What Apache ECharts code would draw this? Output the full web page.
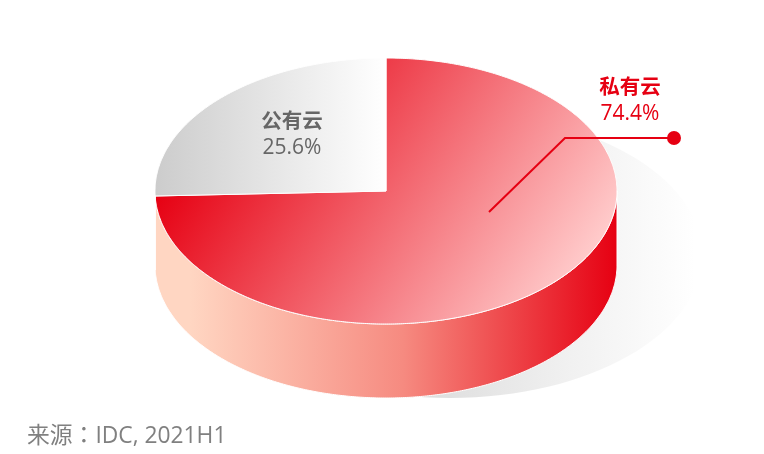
<!DOCTYPE html>
<html><head><meta charset="utf-8">
<style>html,body{margin:0;padding:0;background:#fff}#c{width:764px;height:454px}</style>
<script src="https://cdn.jsdelivr.net/npm/echarts@6/dist/echarts.min.js"></script>
</head><body><div id="c"></div>
<script>
const categories = ['私有云', '公有云'];
const shares = [74.4, 25.6];
const sourceNote = '来源：IDC, 2021H1';

const disc = { cx: 386, cy: 191, rx: 231, ry: 133, depth: 74 };
const FONT = '"Open Sans","Noto Sans CJK SC",sans-serif';
const RED = '#e60012';

const total = shares.reduce((a, b) => a + b, 0);
const starts = []; let acc = 0;
shares.forEach(v => { starts.push(acc); acc += v / total * 360; });

function pt(deg, dy) {
  const r = deg * Math.PI / 180;
  return [disc.cx + disc.rx * Math.sin(r), disc.cy - disc.ry * Math.cos(r) + (dy || 0)];
}
function arc(a, b, dy) {
  const n = Math.max(2, Math.ceil(Math.abs(b - a) * 2)), out = [];
  for (let i = 0; i <= n; i++) out.push(pt(a + (b - a) * i / n, dy));
  return out;
}
function grad(x, y, x2, y2, stops) {
  return { type: 'linear', global: true, x, y, x2, y2,
    colorStops: stops.map(s => ({ offset: s[0], color: s[1] })) };
}
const topFill = [
  grad(155, 197, 480, 416, [[0, RED], [1, '#ffcaca']]),
  grad(155, 0, 386, 0, [[0, '#cccccc'], [1, '#ffffff']])
];
const sideFill = grad(190, 0, 617, 0, [[0, '#ffd6c2'], [0.5, '#f68a80'], [1, RED]]);
const labelAt = [
  { x: 630, y: 88, color: RED },
  { x: 292, y: 122, color: '#666666' }
];
const leader = [[489, 212], [565, 138], [674, 138]];

function renderSlice(params, api) {
  const i = params.dataIndex;
  const a0 = starts[i], a1 = a0 + api.value(0) / total * 360;
  const children = [];
  const fa = Math.max(a0, 90), fb = Math.min(a1, 270);
  if (fb > fa) {
    children.push({ type: 'polygon', shape: { points: arc(fa, fb, 0).concat(arc(fb, fa, disc.depth)) },
      style: { fill: sideFill, stroke: '#ffffff', lineWidth: 1 } });
  }
  children.push({ type: 'polygon',
    shape: { points: [[disc.cx, disc.cy]].concat(arc(a0, a1, 0)) },
    style: { fill: topFill[i], stroke: '#ffffff', lineWidth: 1 } });
  if (i === 0) {
    children.push({ type: 'polyline', shape: { points: leader }, style: { stroke: RED, lineWidth: 2, fill: null } });
    children.push({ type: 'circle', shape: { cx: leader[2][0], cy: leader[2][1], r: 7 }, style: { fill: RED } });
  }
  const l = labelAt[i];
  children.push({ type: 'text', z2: 10, style: { x: l.x, y: l.y, text: categories[i], fill: l.color,
    font: 'bold 20.5px ' + FONT, align: 'center', verticalAlign: 'middle' } });
  children.push({ type: 'text', z2: 10, style: { x: l.x, y: l.y + 26, text: api.value(0).toFixed(1) + '%', fill: l.color,
    font: '21px ' + FONT, align: 'center', verticalAlign: 'middle' } });
  return { type: 'group', children };
}

const chart = echarts.init(document.getElementById('c'), null, { renderer: 'canvas' });
chart.setOption({
  animation: false,
  backgroundColor: '#ffffff',
  graphic: { elements: [
    { type: 'ellipse', z: -1, shape: { cx: 450, cy: 255, rx: 252, ry: 143 }, silent: true,
      style: { fill: grad(420, 0, 695, 0, [[0, '#dcdcdc'], [0.55, '#f1f1f1'], [1, '#ffffff']]) } },
    { type: 'text', left: 27, top: 425, silent: true,
      style: { text: sourceNote, fill: '#808080', font: '22.8px "Open Sans","Noto Sans CJK TC",sans-serif' } }
  ] },
  series: [{
    type: 'custom',
    coordinateSystem: 'none',
    renderItem: renderSlice,
    encode: { value: 0 },
    data: categories.map((name, i) => ({ name, value: [shares[i]] }))
  }]
});
</script></body></html>
